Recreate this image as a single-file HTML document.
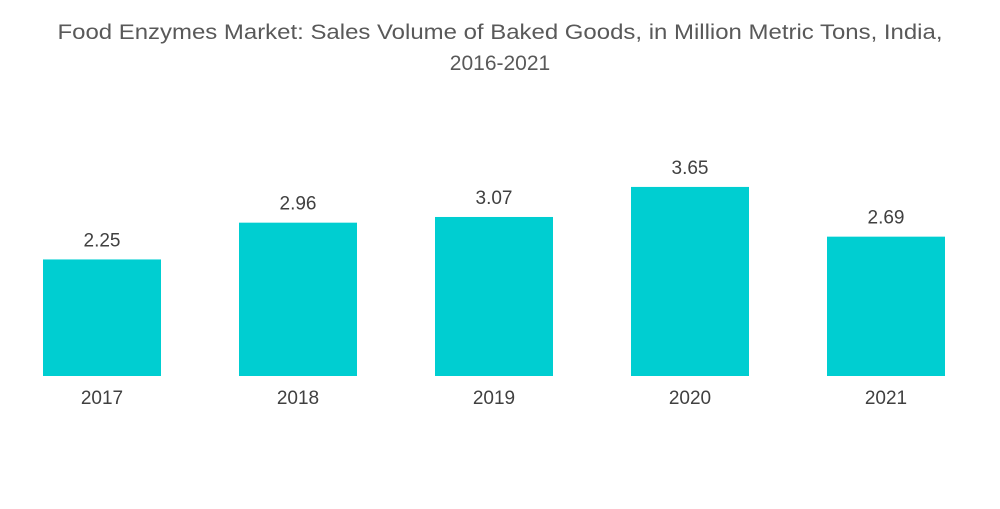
<!DOCTYPE html>
<html><head><meta charset="utf-8"><style>
html,body{margin:0;padding:0;background:#fff;}
body{width:1000px;height:504px;overflow:hidden;font-family:"Liberation Sans",sans-serif;}
</style></head><body>
<svg id="chart" width="1000" height="504" xmlns="http://www.w3.org/2000/svg">
<text x="500" y="39" text-anchor="middle" font-size="21" fill="#595959" textLength="885" lengthAdjust="spacingAndGlyphs">Food Enzymes Market: Sales Volume of Baked Goods, in Million Metric Tons, India,</text>
<text x="500" y="70" text-anchor="middle" font-size="21" fill="#595959">2016-2021</text>
<g id="bars"></g>
</svg>
<script>
const categories = ["2017","2018","2019","2020","2021"];
const values = [2.25, 2.96, 3.07, 3.65, 2.69];
const valueLabels = ["2.25","2.96","3.07","3.65","2.69"];

const baseY = 376, pxPerUnit = 51.8, bandStart = 4, band = 196, barW = 118;
function xBand(i){ return bandStart + i*band + (band-barW)/2; }
function yScale(v){ return baseY - v*pxPerUnit; }
const g = document.getElementById('bars');
const NS = "http://www.w3.org/2000/svg";
categories.forEach((c,i)=>{
  const r = document.createElementNS(NS,'rect');
  
  
  r.setAttribute('x', xBand(i)); r.setAttribute('y', yScale(values[i]));
  r.setAttribute('width', barW); r.setAttribute('height', baseY - yScale(values[i]));
  r.setAttribute('fill', '#00ced1');
  g.appendChild(r);
  const t = document.createElementNS(NS,'text');
  
  
  t.setAttribute('x', xBand(i)+barW/2); t.setAttribute('y', yScale(values[i])-13);
  t.setAttribute('text-anchor','middle'); t.setAttribute('font-size','19'); t.setAttribute('fill','#404040');
  t.textContent = valueLabels[i];
  g.appendChild(t);
  const l = document.createElementNS(NS,'text');
  
  
  l.setAttribute('x', xBand(i)+barW/2); l.setAttribute('y', 404);
  l.setAttribute('text-anchor','middle'); l.setAttribute('font-size','19'); l.setAttribute('fill','#404040');
  l.textContent = c;
  g.appendChild(l);
});
</script>
</body></html>
